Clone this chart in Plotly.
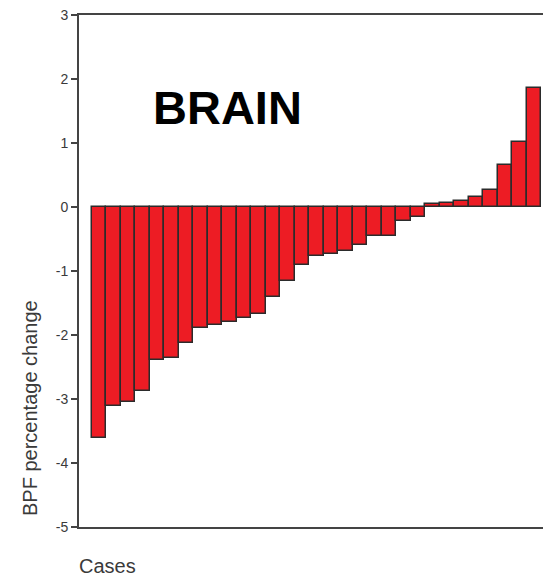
import plotly.graph_objects as go

cases = list(range(1, 32))
bpf_change = [-3.61, -3.11, -3.04, -2.88, -2.39, -2.36, -2.13, -1.89, -1.85, -1.79,
              -1.74, -1.67, -1.40, -1.15, -0.90, -0.77, -0.73, -0.68, -0.60, -0.46,
              -0.46, -0.22, -0.16, 0.04, 0.07, 0.10, 0.15, 0.26, 0.65, 1.02, 1.86]
y_ticks = [3, 2, 1, 0, -1, -2, -3, -4, -5]

W, H = 543, 579
L, R, T, B = 79, 0, 15, 52

fig = go.Figure(go.Bar(
    x=cases, y=bpf_change,
    marker=dict(color="#ED1C24", line=dict(color="#2b2b2b", width=1.5)),
    width=1.0,
))

fig.update_layout(
    width=W, height=H,
    margin=dict(l=L, r=R, t=T, b=B),
    plot_bgcolor="white", paper_bgcolor="white",
    showlegend=False,
    bargap=0,
    font=dict(family="Liberation Sans, Arial, sans-serif", color="#333"),
)
fig.update_xaxes(
    range=[0.5 - 13 / 14.5, 31.5 + 2 / 14.5],
    showticklabels=False, ticks="", showgrid=False, zeroline=False,
    showline=True, linecolor="#444", linewidth=2, mirror=True,
)
fig.update_yaxes(
    range=[-5, 3], tickvals=y_ticks, ticktext=[str(v) for v in y_ticks],
    ticks="outside", ticklen=6, tickwidth=2, tickcolor="#444",
    tickfont=dict(size=14, color="#3a3a3a"),
    showgrid=False, zeroline=False,
    showline=True, linecolor="#444", linewidth=2,
)

plot_w = W - L - R
plot_h = H - T - B
fig.add_annotation(
    text="BPF percentage change", textangle=-90,
    xref="paper", yref="paper",
    x=(30 - L) / plot_w, y=(H - B - 408) / plot_h,
    xanchor="center", yanchor="middle", showarrow=False,
    font=dict(size=20, color="#3a3a3a"),
)
fig.add_annotation(
    text="Cases", xref="paper", yref="paper",
    x=(77 - L) / plot_w, y=(H - B - 566) / plot_h,
    xanchor="left", yanchor="middle", showarrow=False,
    font=dict(size=20, color="#3a3a3a"),
)
fig.add_annotation(
    text="<b>BRAIN</b>", xref="paper", yref="paper",
    x=(151 - L) / plot_w, y=(H - B - 107) / plot_h,
    xanchor="left", yanchor="middle", showarrow=False,
    font=dict(size=47, color="black", family="Liberation Sans, Arial, sans-serif"),
)

fig.write_html("out.html")
